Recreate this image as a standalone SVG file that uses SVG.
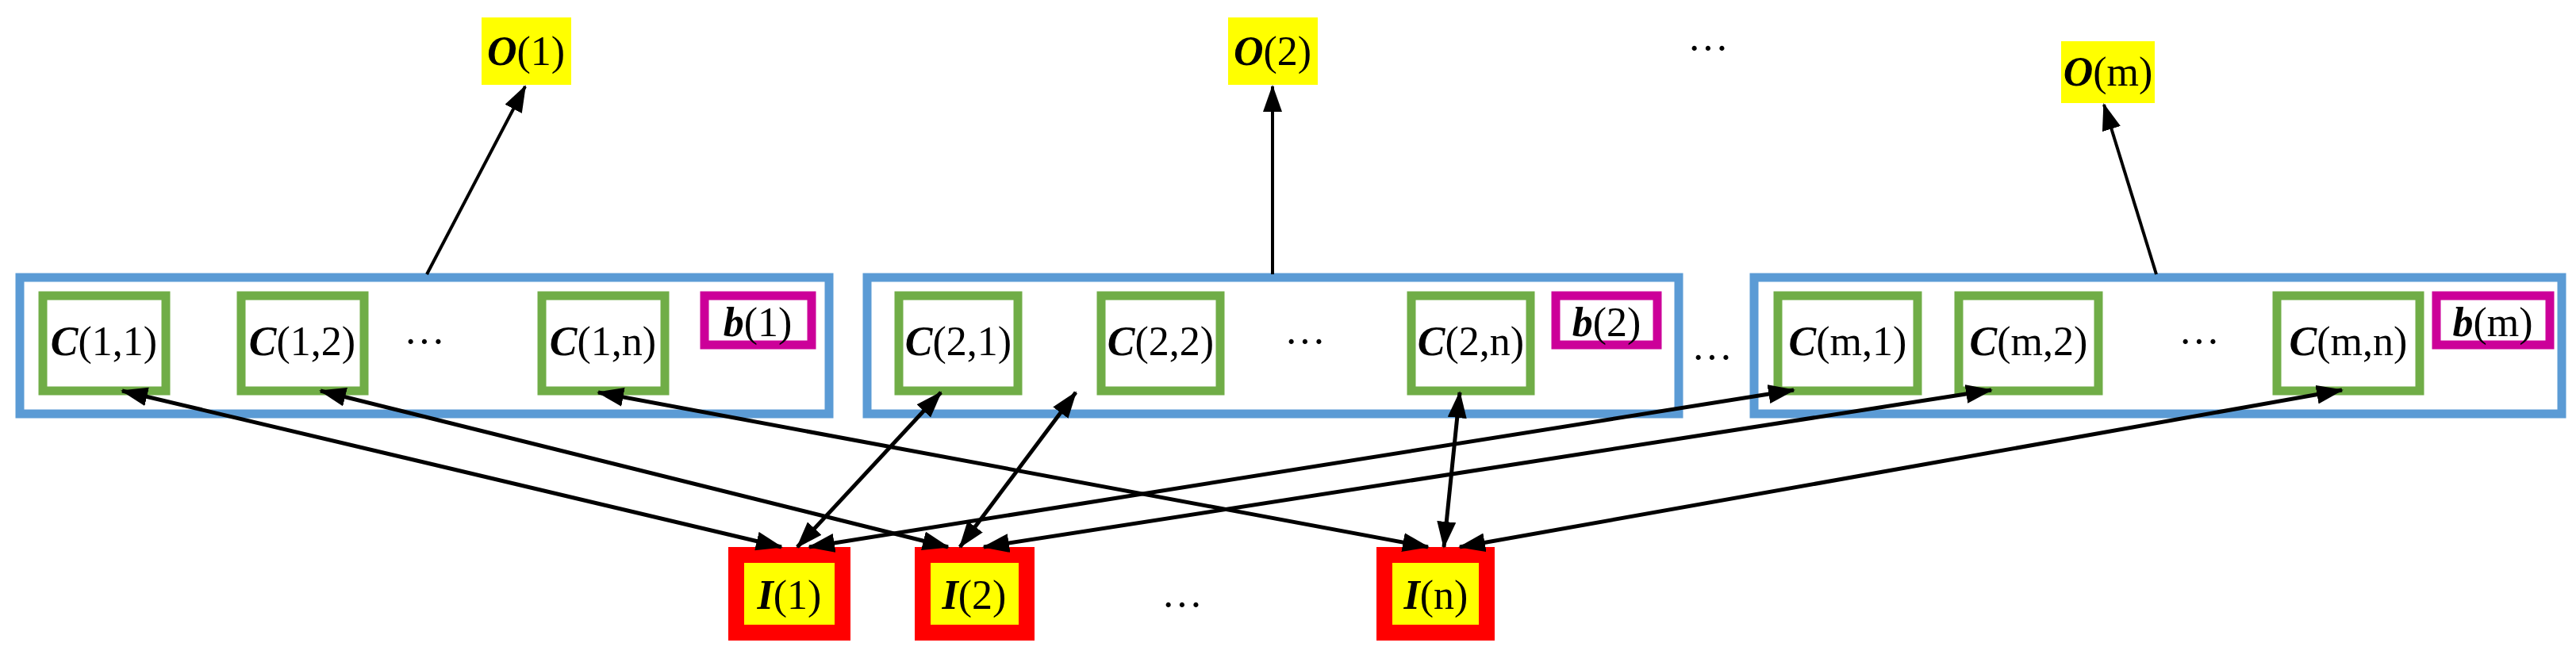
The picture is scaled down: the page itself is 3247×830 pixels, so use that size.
<svg xmlns="http://www.w3.org/2000/svg" width="3247" height="830" viewBox="0 0 3247 830">
<style>
text{font-family:"Liberation Serif","Times New Roman",serif;font-size:52px;fill:#000;text-anchor:middle}
.bi{font-weight:bold;font-style:italic}
.blue{fill:#fff;stroke:#5b9bd5;stroke-width:11}
.green{fill:#fff;stroke:#70ad47;stroke-width:11}
.mag{fill:#fff;stroke:#cc0099;stroke-width:11}
.out{fill:#ffff00}
.inp{fill:#ffff00;stroke:#ff0000;stroke-width:20}
.c{stroke:#000;stroke-width:5;fill:none}
.o{stroke:#000;stroke-width:4;fill:none}
</style>
<defs>
<marker id="ah" markerUnits="userSpaceOnUse" markerWidth="34" markerHeight="24" refX="32" refY="12" orient="auto-start-reverse"><path d="M0,0 L34,12 L0,24 Z" fill="#000"/></marker>
</defs>
<g id="box1"><rect class="blue" x="25" y="350" width="1020" height="172"/></g>
<g id="box2"><rect class="blue" x="1093" y="350" width="1023" height="172"/></g>
<g id="box3"><rect class="blue" x="2211" y="350" width="1018" height="172"/></g>
<g id="C11"><rect class="green" x="54" y="373" width="155" height="120"/><text x="131" y="448"><tspan class="bi">C</tspan>(1,1)</text></g>
<g id="C12"><rect class="green" x="304" y="373" width="155" height="120"/><text x="381" y="448"><tspan class="bi">C</tspan>(1,2)</text></g>
<text x="535" y="448">···</text>
<g id="C1n"><rect class="green" x="683" y="373" width="155" height="120"/><text x="760" y="448"><tspan class="bi">C</tspan>(1,n)</text></g>
<g id="b1"><rect class="mag" x="888" y="373" width="135" height="62"/><text x="955" y="424"><tspan class="bi">b</tspan>(1)</text></g>
<g id="C21"><rect class="green" x="1133" y="373" width="150" height="120"/><text x="1208" y="448"><tspan class="bi">C</tspan>(2,1)</text></g>
<g id="C22"><rect class="green" x="1388" y="373" width="150" height="120"/><text x="1463" y="448"><tspan class="bi">C</tspan>(2,2)</text></g>
<text x="1645" y="448">···</text>
<g id="C2n"><rect class="green" x="1779" y="373" width="150" height="120"/><text x="1854" y="448"><tspan class="bi">C</tspan>(2,n)</text></g>
<g id="b2"><rect class="mag" x="1961" y="373" width="128" height="62"/><text x="2025" y="424"><tspan class="bi">b</tspan>(2)</text></g>
<text x="2158" y="468">···</text>
<g id="Cm1"><rect class="green" x="2241" y="373" width="176" height="120"/><text x="2329" y="448"><tspan class="bi">C</tspan>(m,1)</text></g>
<g id="Cm2"><rect class="green" x="2469" y="373" width="176" height="120"/><text x="2557" y="448"><tspan class="bi">C</tspan>(m,2)</text></g>
<text x="2772" y="448">···</text>
<g id="Cmn"><rect class="green" x="2870" y="373" width="180" height="120"/><text x="2960" y="448"><tspan class="bi">C</tspan>(m,n)</text></g>
<g id="bm"><rect class="mag" x="3071" y="373" width="143" height="62"/><text x="3142" y="424"><tspan class="bi">b</tspan>(m)</text></g>
<g id="O1"><rect class="out" x="607" y="22" width="113" height="85"/><text x="663" y="82"><tspan class="bi">O</tspan>(1)</text></g>
<g id="O2"><rect class="out" x="1548" y="22" width="113" height="85"/><text x="1604" y="82"><tspan class="bi">O</tspan>(2)</text></g>
<g id="Om"><rect class="out" x="2598" y="52" width="118" height="78"/><text x="2657" y="108"><tspan class="bi">O</tspan>(m)</text></g>
<text x="2153" y="78">···</text>
<g id="I1"><rect class="inp" x="928" y="700" width="134" height="98"/><text x="995" y="768"><tspan class="bi">I</tspan>(1)</text></g>
<g id="I2"><rect class="inp" x="1163" y="700" width="131" height="98"/><text x="1228" y="768"><tspan class="bi">I</tspan>(2)</text></g>
<text x="1490" y="780">···</text>
<g id="In"><rect class="inp" x="1745" y="700" width="129" height="98"/><text x="1810" y="768"><tspan class="bi">I</tspan>(n)</text></g>
<g id="connectors">
<line class="o" x1="538" y1="346" x2="662" y2="109" marker-end="url(#ah)"/>
<line class="o" x1="1604" y1="346" x2="1604" y2="109" marker-end="url(#ah)"/>
<line class="o" x1="2718" y1="346" x2="2652" y2="132" marker-end="url(#ah)"/>
<line class="c" x1="154" y1="493" x2="985" y2="690" marker-start="url(#ah)" marker-end="url(#ah)"/>
<line class="c" x1="404" y1="493" x2="1195" y2="690" marker-start="url(#ah)" marker-end="url(#ah)"/>
<line class="c" x1="754" y1="495" x2="1800" y2="690" marker-start="url(#ah)" marker-end="url(#ah)"/>
<line class="c" x1="1186" y1="495" x2="1005" y2="690" marker-start="url(#ah)" marker-end="url(#ah)"/>
<line class="c" x1="1356" y1="495" x2="1210" y2="690" marker-start="url(#ah)" marker-end="url(#ah)"/>
<line class="c" x1="1840" y1="495" x2="1820" y2="690" marker-start="url(#ah)" marker-end="url(#ah)"/>
<line class="c" x1="2261" y1="492" x2="1020" y2="690" marker-start="url(#ah)" marker-end="url(#ah)"/>
<line class="c" x1="2510" y1="492" x2="1240" y2="690" marker-start="url(#ah)" marker-end="url(#ah)"/>
<line class="c" x1="2952" y1="492" x2="1840" y2="690" marker-start="url(#ah)" marker-end="url(#ah)"/>
</g>
</svg>
